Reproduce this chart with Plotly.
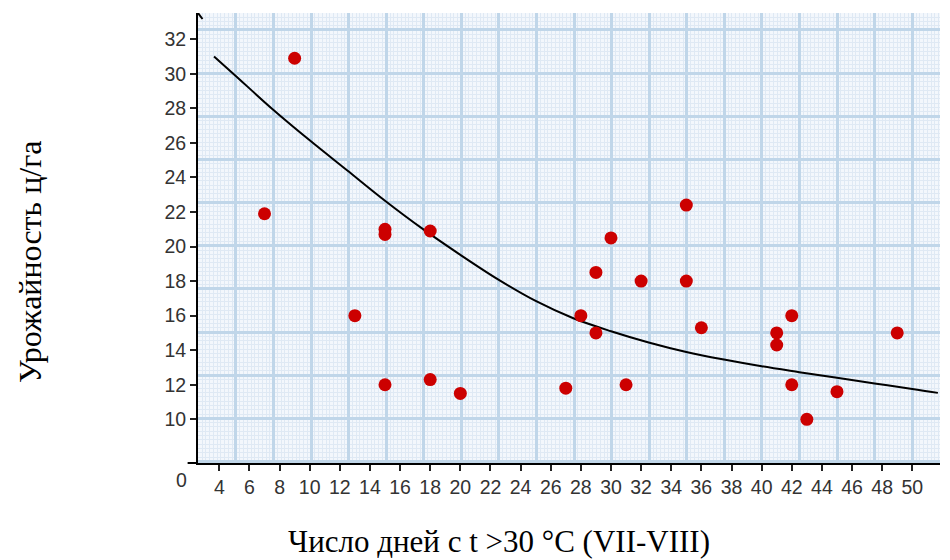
import plotly.graph_objects as go

# --- data ---
days = [7, 9, 13, 15, 15, 15, 18, 18, 20, 27, 28, 29, 29, 30, 31, 32, 35, 35, 36, 41, 41, 42, 42, 43, 45, 49]
yields = [21.9, 30.9, 16.0, 21.0, 20.7, 12.0, 20.9, 12.3, 11.5, 11.8, 16.0, 15.0, 18.5, 20.5, 12.0, 18.0,
          22.4, 18.0, 15.3, 15.0, 14.3, 16.0, 12.0, 10.0, 11.6, 15.0]
trend_x = [3.65, 5, 7.5, 10, 12.5, 15, 17.5, 20, 22.5, 25, 27.5, 30, 32.5, 35, 37.5, 40, 42.5, 45, 47.5, 50, 51.7]
trend_y = [31.0, 29.95, 27.98, 26.15, 24.4, 22.65, 21.02, 19.52, 18.1, 16.85, 15.85, 15.1, 14.45, 13.9, 13.46,
           13.07, 12.73, 12.4, 12.07, 11.76, 11.53]
x_ticks = list(range(4, 51, 2))
y_ticks = list(range(10, 33, 2))
x_title = "Число дней с t >30 °C (VII-VIII)"
y_title = "Урожайность ц/га"

X_RANGE = [2.586, 51.84]
Y_RANGE = [7.47, 33.52]
GX0, GDX = 2.613, 2.494      # graph-paper grid (not aligned with ticks)
GY0, GDY = 7.559, 2.498

fig = go.Figure()
# invisible trace to hold the graph-paper grid subplot
fig.add_trace(go.Scatter(x=[X_RANGE[0]], y=[Y_RANGE[0]], mode="markers", marker=dict(opacity=0),
                         hoverinfo="skip", showlegend=False, xaxis="x", yaxis="y"))
fig.add_trace(go.Scatter(x=trend_x, y=trend_y, mode="lines", line=dict(color="black", width=2, shape="spline"),
                         showlegend=False, xaxis="x2", yaxis="y2"))
fig.add_trace(go.Scatter(x=days, y=yields, mode="markers", marker=dict(color="#cc0000", size=13),
                         showlegend=False, xaxis="x2", yaxis="y2"))

grid_major = "#c0d6e9"
grid_minor = "#dfe9f4"
tick_font = dict(family="Liberation Sans, Arial", size=19.5, color="#333")
fig.update_layout(
    width=950, height=560, autosize=False,
    margin=dict(l=198, r=10, t=13, b=97),
    paper_bgcolor="white", plot_bgcolor="#f3f7fc",
    xaxis=dict(range=X_RANGE, tick0=GX0, dtick=GDX, showgrid=True, gridcolor=grid_major, gridwidth=3,
               showticklabels=False, ticks="", zeroline=False, showline=False,
               minor=dict(tick0=GX0, dtick=GDX / 10, showgrid=True, gridcolor=grid_minor, gridwidth=1, ticks="")),
    yaxis=dict(range=Y_RANGE, tick0=GY0, dtick=GDY, showgrid=True, gridcolor=grid_major, gridwidth=3,
               showticklabels=False, ticks="", zeroline=False, showline=False,
               minor=dict(tick0=GY0, dtick=GDY / 10, showgrid=True, gridcolor=grid_minor, gridwidth=1, ticks="")),
    xaxis2=dict(overlaying="x", anchor="y2", side="bottom", range=X_RANGE, tickmode="array", tickvals=x_ticks,
                ticks="outside", ticklen=6, tickwidth=1.5, tickcolor="#222", showgrid=False, zeroline=False,
                showline=True, linecolor="black", linewidth=2, tickfont=tick_font),
    yaxis2=dict(overlaying="y", anchor="x2", side="left", range=Y_RANGE, tickmode="array", tickvals=y_ticks,
                ticks="outside", ticklen=6, tickwidth=1.5, tickcolor="#222", showgrid=False, zeroline=False,
                showline=True, linecolor="black", linewidth=2, tickfont=tick_font),
)

# axis arrow at the top of the y axis
fig.add_shape(type="path", xref="x2", yref="y2", xsizemode="pixel", ysizemode="pixel",
              xanchor=X_RANGE[0], yanchor=Y_RANGE[1], path="M -4.5 -6 L 0 0 L 4.5 -6",
              line=dict(color="black", width=2))
# x axis line continues a little to the left of the y axis
fig.add_shape(type="line", xref="paper", yref="paper", x0=-0.014, x1=0, y0=0, y1=0,
              line=dict(color="black", width=2))

fig.add_annotation(text="0", xref="paper", yref="paper", x=(181.7 - 198) / 742, y=(463 - 480) / 450,
                   showarrow=False, xanchor="center", yanchor="middle", font=tick_font)
fig.add_annotation(text=x_title, xref="paper", yref="paper", x=(499 - 198) / 742, y=(463 - 541) / 450,
                   showarrow=False, xanchor="center", yanchor="middle",
                   font=dict(family="Liberation Serif, Times New Roman", size=31, color="black"))
fig.add_annotation(text=y_title, xref="paper", yref="paper", x=(30 - 198) / 742, y=(463 - 262) / 450,
                   showarrow=False, xanchor="center", yanchor="middle", textangle=-90,
                   font=dict(family="Liberation Serif, Times New Roman", size=32, color="black"))

fig.write_html("out.html")
